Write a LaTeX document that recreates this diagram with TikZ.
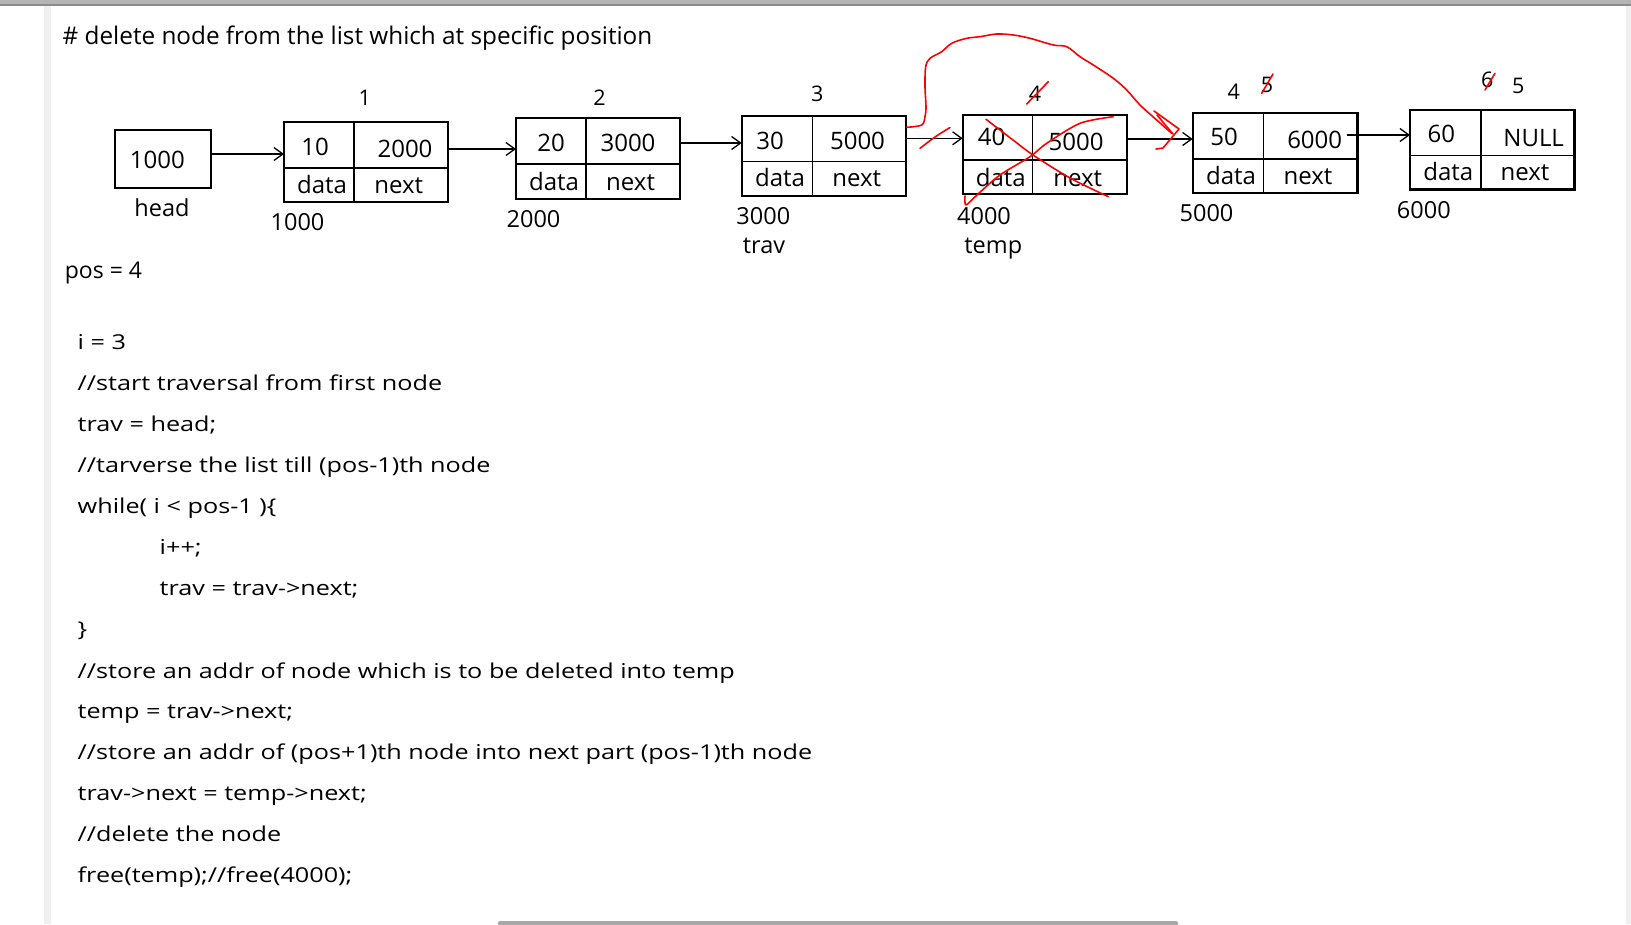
\documentclass[tikz,border=0pt]{standalone}
\usepackage{fontspec}
\setmainfont{Open Sans}
\newfontfamily\codefont[FakeStretch=1.23]{Open Sans}
\usetikzlibrary{arrows.meta}
\definecolor{topbar}{HTML}{B4B4B4}
\definecolor{topline}{HTML}{8C8C8C}
\definecolor{sidestrip}{HTML}{F0F0F0}
\definecolor{scrollbar}{HTML}{A8A8A8}
\definecolor{penred}{HTML}{FF0000}
\begin{document}
\begin{tikzpicture}[x=1pt,y=-1pt,
  outerbox/.style={draw, line width=2.4pt, inner sep=0pt, outer sep=0pt},
  inl/.style={line width=1.4pt},
  txt/.style={inner sep=0pt, anchor=base, font=\fontsize{24}{28}\selectfont},
  lbl/.style={inner sep=0pt, anchor=base, font=\fontsize{21.5}{26}\selectfont},
  sublbl/.style={inner sep=0pt, anchor=base, font=\fontsize{23.5}{28}\selectfont},
  codeline/.style={inner sep=0pt, anchor=base west, font=\codefont\fontsize{20.5}{24}\selectfont},
  arr/.style={line width=1.3pt, -{Straight Barb[length=9pt,width=13pt]}},
  redpen/.style={draw=penred, line width=1.6pt, line cap=round, line join=round},
]
\useasboundingbox (0,0) rectangle (1631,924);
\fill[white] (0,0) rectangle (1631,924);
% window chrome
\fill[topbar] (0,0) rectangle (1631,4.4);
\fill[topline] (0,4.4) rectangle (1631,5.8);
\fill[sidestrip] (44,5.8) rectangle (51,924);
\fill[sidestrip] (1626,5.8) rectangle (1631,924);
\fill[scrollbar, rounded corners=2pt] (498,921) rectangle (1178,926);

% title
\node[inner sep=0pt, anchor=base west, font=\fontsize{24.3}{29}\selectfont] (title) at (62.5,44.3)
  {\# delete node from the list which at specific position};

% head
\node[outerbox, minimum width=96pt, minimum height=58pt] (head) at (163,159) {};
\node[txt] (headv) at (157.4,168) {1000};
\node[sublbl] (headl) at (162,216.7) {head};

% node 1
\node[outerbox, minimum width=164pt, minimum height=80pt] (n1) at (366,162) {};
\draw[inl] (n1.west |- 0,168) -- (n1.east |- 0,168);
\draw[inl] (n1.north -| 354,0) -- (n1.south -| 354,0);
\node[txt] (n1d) at (315,155) {10};
\node[txt] (n1n) at (405,157.7) {2000};
\node[txt] (n1dl) at (322,193.3) {data};
\node[txt] (n1nl) at (398.7,193.3) {next};
\node[lbl] (n1i) at (364.7,105.3) {1};
\node[sublbl] (n1a) at (297.5,230) {1000};

% node 2
\node[outerbox, minimum width=164pt, minimum height=81pt] (n2) at (598,158.5) {};
\draw[inl] (n2.west |- 0,164) -- (n2.east |- 0,164);
\draw[inl] (n2.north -| 586,0) -- (n2.south -| 586,0);
\node[txt] (n2d) at (551,151) {20};
\node[txt] (n2n) at (628,151) {3000};
\node[txt] (n2dl) at (554,190) {data};
\node[txt] (n2nl) at (630.6,190) {next};
\node[lbl] (n2i) at (599.6,105.3) {2};
\node[sublbl] (n2a) at (533.5,227.7) {2000};

% node 3
\node[outerbox, minimum width=164.3pt, minimum height=79.7pt] (n3) at (823.85,155.85) {};
\draw[inl] (n3.west |- 0,161.7) -- (n3.east |- 0,161.7);
\draw[inl] (n3.north -| 812.7,0) -- (n3.south -| 812.7,0);
\node[txt] (n3d) at (770,149.3) {30};
\node[txt] (n3n) at (857.5,149.3) {5000};
\node[txt] (n3dl) at (780,186.7) {data};
\node[txt] (n3nl) at (856.8,186.7) {next};
\node[lbl] (n3i) at (817.3,101.7) {3};
\node[sublbl] (n3a) at (763.3,224) {3000};
\node[sublbl] (trav) at (764,253.3) {trav};

% node 4
\node[outerbox, minimum width=164.3pt, minimum height=79pt] (n4) at (1044.85,154.5) {};
\draw[inl] (n4.west |- 0,160) -- (n4.east |- 0,160);
\draw[inl] (n4.north -| 1032.7,0) -- (n4.south -| 1032.7,0);
\node[txt] (n4d) at (991.7,145) {40};
\node[txt] (n4n) at (1076,150) {5000};
\node[txt] (n4dl) at (1000.8,186.7) {data};
\node[txt] (n4nl) at (1077.7,186.7) {next};
\node[lbl] (n4i) at (1035,101) {4};
\node[sublbl] (n4a) at (984,224) {4000};
\node[sublbl] (temp) at (993.3,253.3) {temp};

% node 5
\node[outerbox, minimum width=164.6pt, minimum height=80pt] (n5) at (1275,152.7) {};
\draw[inl] (n5.west |- 0,159) -- (n5.east |- 0,159);
\draw[inl] (n5.north -| 1263.3,0) -- (n5.south -| 1263.3,0);
\node[txt] (n5d) at (1224,145) {50};
\node[txt] (n5n) at (1314.7,148.3) {6000};
\node[txt] (n5dl) at (1231,184) {data};
\node[txt] (n5nl) at (1308,184) {next};
\node[lbl] (n5i) at (1233.7,99) {4};
\node[lbl] (n5j) at (1267,92.7) {5};
\node[sublbl] (n5a) at (1206.5,221.7) {5000};

% node 6
\node[outerbox, minimum width=164.3pt, minimum height=79.3pt] (n6) at (1492.15,149.65) {};
\draw[inl] (n6.west |- 0,155.7) -- (n6.east |- 0,155.7);
\draw[inl] (n6.north -| 1481,0) -- (n6.south -| 1481,0);
\node[txt] (n6d) at (1441.3,142.7) {60};
\node[txt] (n6n) at (1533.7,146) {NULL};
\node[txt] (n6dl) at (1448.3,180) {data};
\node[txt] (n6nl) at (1525,180) {next};
\node[lbl] (n6j) at (1487.3,87.7) {6};
\node[lbl] (n6i) at (1518.3,93.3) {5};
\node[sublbl] (n6a) at (1423.8,218.3) {6000};

% connectors
\draw[arr] (head.east |- 0,154) -- (n1.west |- 0,154);
\draw[arr] (n1.east |- 0,149) -- (n2.west |- 0,149);
\draw[arr] (n2.east |- 0,143) -- (n3.west |- 0,143);
\draw[arr] (n3.east |- 0,138.3) -- (n4.west |- 0,138.3);
\draw[arr] (n4.east |- 0,139) -- (n5.west |- 0,139);
\coordinate (s56) at (1346.7,135);
\draw[arr] (s56) -- (n6.west |- s56);

% pos
\node[inner sep=0pt, anchor=base west, font=\fontsize{23}{28}\selectfont] (pos) at (64.7,278) {pos = 4};

% red annotations
\draw[redpen] plot[smooth, tension=0.55] coordinates {
  (906.7,127.3) (921.7,125) (925,116.7) (926,106.7) (925,86.7) (925.7,66.7)
  (930,58.3) (941.7,51.7) (951.7,43.3) (966.7,38.3) (980,36.7) (996.7,34)
  (1013.3,35) (1030,38.3) (1053.3,45) (1066.7,46.7) (1080,56.7) (1093.3,65)
  (1113.3,78.3) (1126.7,90) (1140,105) (1156.7,120) (1171.7,133.3)};
\draw[redpen] (1154,111) -- (1179,129) -- (1163,148) -- (1156,149);
\draw[redpen] (1157,115) -- (1173,134);
\draw[redpen] plot[smooth, tension=0.5] coordinates {(920,148.3) (935,137) (950,127.5)};
\draw[redpen] plot[smooth, tension=0.5] coordinates {(986,119.3) (1013,140) (1033,155) (1070,178) (1108.3,196.7)};
\draw[redpen] plot[smooth, tension=0.5] coordinates {(965,196) (966,205) (978,194) (1000,175) (1030,156.7) (1046.7,143.3) (1080,123.3) (1113.3,116.7)};
\draw[redpen] (1026.7,104) -- (1048.3,81.7);
\draw[redpen] (1261.7,93.3) -- (1273,74);
\draw[redpen] (1485,90) -- (1495,73.3);

% code
\node[codeline] (c1) at (77.5,349.3) {i = 3};
\node[codeline] (c2) at (77.5,390.5) {//start traversal from first node};
\node[codeline] (c3) at (77.5,431.5) {trav = head;};
\node[codeline] (c4) at (77.5,472.5) {//tarverse the list till (pos-1)th node};
\node[codeline] (c5) at (77.5,513.5) {while( i < pos-1 )\{};
\node[codeline] (c6) at (159.5,554) {i++;};
\node[codeline] (c7) at (159.5,595.5) {trav = trav->next;};
\node[codeline] (c8) at (77.5,636) {\}};
\node[codeline] (c9) at (77.5,678) {//store an addr of node which is to be deleted into temp};
\node[codeline] (c10) at (77.5,718.5) {temp = trav->next;};
\node[codeline] (c11) at (77.5,759.3) {//store an addr of (pos+1)th node into next part (pos-1)th node};
\node[codeline] (c12) at (77.5,800.3) {trav->next = temp->next;};
\node[codeline] (c13) at (77.5,841) {//delete the node};
\node[codeline] (c14) at (77.5,882) {free(temp);//free(4000);};
\end{tikzpicture}
\end{document}
